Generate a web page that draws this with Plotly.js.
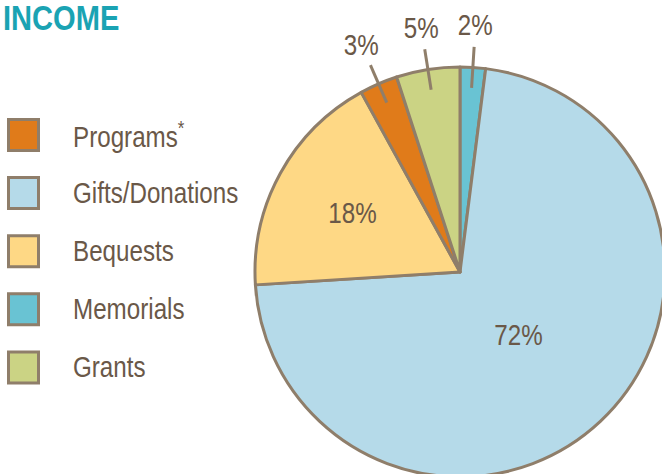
<!DOCTYPE html>
<html>
<head>
<meta charset="utf-8">
<script src="https://cdn.plot.ly/plotly-3.0.1.min.js"></script>
<style>
html,body{margin:0;padding:0;overflow:hidden;background:#fff;}
#chart{width:666px;height:478px;}
</style>
</head>
<body>
<div id="chart"></div>
<script>
// ---- data (pie order, clockwise from 12 o'clock) ----
const pieLabels = ['Memorials', 'Gifts/Donations', 'Bequests', 'Programs', 'Grants'];
const pieValues = [2, 72, 18, 3, 5];
const pieText   = ['2%', '72%', '18%', '3%', '5%'];
const pieColors = ['#69C3D3', '#B5DAE9', '#FED885', '#E07B1A', '#CBD384'];

// ---- legend order ----
const legendLabels = ['Programs', 'Gifts/Donations', 'Bequests', 'Memorials', 'Grants'];
const legendText   = ['Programs<sup>*</sup>', 'Gifts/Donations', 'Bequests', 'Memorials', 'Grants'];

const titleText = 'INCOME';

// ---- styling / layout ----
const W = 666, H = 478;
const CX = 460, CY = 272, R = 205;
const stroke = '#8F7E6A';
const txt = '#6A5848';
const FONT = '"Liberation Sans", Arial, sans-serif';
const SQUEEZE = 0.82;   // horizontal condensing of text (condensed face look)

const px = x => x / W;
const py = y => 1 - y / H;

const trace = {
  type: 'pie',
  labels: pieLabels,
  values: pieValues,
  sort: false,
  direction: 'clockwise',
  rotation: 0,
  textinfo: 'none',
  hoverinfo: 'none',
  showlegend: false,
  marker: { colors: pieColors, line: { color: stroke, width: 3 } },
  domain: { x: [px(CX - R), px(CX + R)], y: [py(CY + R), py(CY - R)] }
};

const shapes = [];
const annotations = [];

// Title
annotations.push({
  xref: 'paper', yref: 'paper', x: px(1), y: py(18),
  xanchor: 'left', yanchor: 'middle', showarrow: false,
  text: '<b>' + titleText + '</b>',
  font: { family: FONT, size: 35.5, color: '#1AA3B3' }
});

// Legend
const legY0 = 135, legStep = 58.1;
legendLabels.forEach((lab, i) => {
  const k = pieLabels.indexOf(lab);
  const yc = legY0 + i * legStep;
  shapes.push({
    type: 'rect', xref: 'paper', yref: 'paper',
    x0: px(8.5), x1: px(38.5), y0: py(yc + 15.5), y1: py(yc - 15.5),
    fillcolor: pieColors[k], line: { color: stroke, width: 3 }
  });
  annotations.push({
    xref: 'paper', yref: 'paper', x: px(71), y: py(yc - 1),
    xanchor: 'left', yanchor: 'middle', showarrow: false,
    text: legendText[i],
    font: { family: FONT, size: 29.5, color: txt }
  });
});

// Slice labels computed from cumulative values
const total = pieValues.reduce((a, b) => a + b, 0);
let cum = 0;
pieValues.forEach((v, i) => {
  const mid = (cum + v / 2) / total * 2 * Math.PI;
  cum += v;
  const pt = r => [CX + r * Math.sin(mid), CY - r * Math.cos(mid)];
  if (v >= 10) {
    const f = v > 50 ? 0.42 : 0.6;
    const [x, y] = pt(f * R);
    annotations.push({
      xref: 'paper', yref: 'paper', x: px(x), y: py(y),
      xanchor: 'center', yanchor: 'middle', showarrow: false,
      text: pieText[i], font: { family: FONT, size: 29.5, color: txt }
    });
  } else {
    const [x0, y0] = pt(0.9 * R);
    const [x1, y1] = pt(1.1 * R);
    shapes.push({
      type: 'line', xref: 'paper', yref: 'paper',
      x0: px(x0), y0: py(y0), x1: px(x1), y1: py(y1),
      line: { color: stroke, width: 3 }
    });
    const [tx, ty] = pt(1.21 * R);
    annotations.push({
      xref: 'paper', yref: 'paper', x: px(tx), y: py(ty),
      xanchor: 'center', yanchor: 'middle', showarrow: false,
      text: pieText[i], font: { family: FONT, size: 29.5, color: txt }
    });
  }
});

const layout = {
  width: W, height: H,
  margin: { l: 0, r: 0, t: 0, b: 0, pad: 0 },
  paper_bgcolor: '#ffffff',
  plot_bgcolor: '#ffffff',
  showlegend: false,
  shapes: shapes,
  annotations: annotations
};

Plotly.newPlot('chart', [trace], layout, { staticPlot: true, displayModeBar: false }).then(gd => {
  // condense annotation text horizontally about its anchor side
  gd.querySelectorAll('g.annotation').forEach(g => {
    const idx = +g.getAttribute('data-index');
    const ann = annotations[idx];
    const t = g.querySelector('text.annotation-text');
    if (!t || !ann) return;
    const bb = t.getBBox();
    let ax = bb.x + bb.width / 2;
    if (ann.xanchor === 'left') ax = bb.x;
    else if (ann.xanchor === 'right') ax = bb.x + bb.width;
    t.setAttribute('transform', `translate(${ax},0) scale(${SQUEEZE},1) translate(${-ax},0)`);
  });
});
</script>
</body>
</html>
